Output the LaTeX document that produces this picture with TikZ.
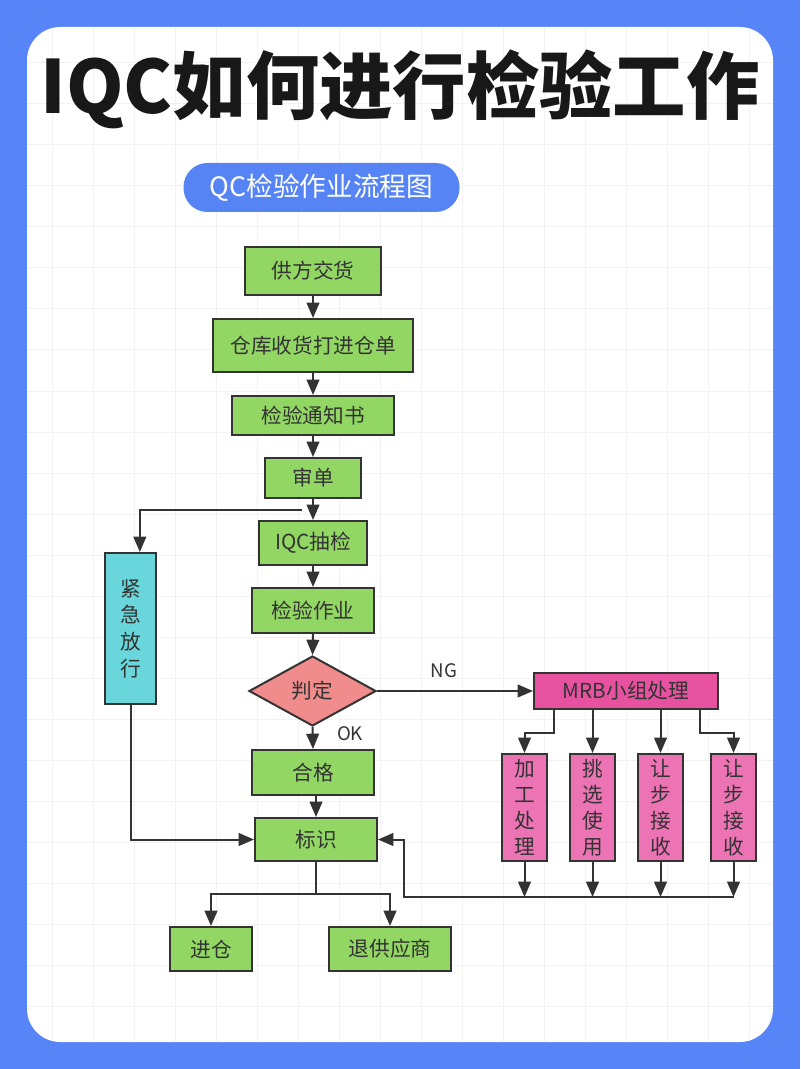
\documentclass[tikz,border=0pt]{standalone}
\usepackage{fontspec}
\setmainfont{Noto Sans CJK SC}
\usetikzlibrary{shapes.geometric,arrows.meta,calc}
\definecolor{bgblue}{RGB}{87,132,246}
\definecolor{pillblue}{RGB}{86,132,244}
\definecolor{gridc}{RGB}{242,242,242}
\definecolor{boxgreen}{RGB}{146,214,100}
\definecolor{boxcyan}{RGB}{104,214,218}
\definecolor{boxrose}{RGB}{240,140,140}
\definecolor{boxmag}{RGB}{230,82,160}
\definecolor{boxpink}{RGB}{236,116,180}
\definecolor{ink}{RGB}{51,51,51}
\definecolor{titleink}{RGB}{24,24,24}
\tikzset{
  base/.style={draw=ink, line width=1.5pt, text=ink, inner sep=0pt,
    font=\fontsize{15.5pt}{20pt}\selectfont},
  gbox/.style={base, fill=boxgreen},
  vbox/.style={base, align=center},
  conn/.style={draw=ink, line width=1.5pt},
  arr/.style={conn, -{Triangle[length=11.5pt,width=9.5pt]}},
  lbl/.style={text=ink, font=\fontsize{14pt}{16pt}\selectfont},
}
\begin{document}
\begin{tikzpicture}[x=0.75pt,y=-0.75pt]
\useasboundingbox (0,0) rectangle (800,1069);
\fill[bgblue] (0,0) rectangle (800,1069);
\fill[white, rounded corners=25pt] (27,27) rectangle (773,1042);
\begin{scope}
  \clip[rounded corners=25pt] (27,27) rectangle (773,1042);
  \foreach \gx in {52,93,...,770} \draw[gridc, line width=0.75pt] (\gx,27) -- (\gx,1042);
  \foreach \gy in {63,104,...,1040} \draw[gridc, line width=0.75pt] (27,\gy) -- (773,\gy);
\end{scope}

% title
\node[text=titleink, font=\bfseries\fontsize{55pt}{60pt}\selectfont] (title) at (400,89) {IQC如何进行检验工作};
% pill
\node[fill=pillblue, rounded corners=18pt, minimum width=276*0.75pt, minimum height=49*0.75pt,
  inner sep=0pt, text=white, font=\fontsize{20pt}{24pt}\selectfont] (pill) at (321.5,187.5) {QC检验作业流程图};

% main column
\node[gbox, minimum width=136*0.75pt, minimum height=48*0.75pt] (s1) at (313,271) {供方交货};
\node[gbox, minimum width=200*0.75pt, minimum height=53*0.75pt] (s2) at (313,345.5) {仓库收货打进仓单};
\node[gbox, minimum width=162*0.75pt, minimum height=39*0.75pt] (s3) at (313,415.5) {检验通知书};
\node[gbox, minimum width=96*0.75pt, minimum height=40*0.75pt] (s4) at (313,478) {审单};
\node[gbox, minimum width=108*0.75pt, minimum height=44*0.75pt] (s5) at (313,543) {IQC抽检};
\node[gbox, minimum width=122*0.75pt, minimum height=45*0.75pt] (s6) at (313,610.5) {检验作业};
\node[base, diamond, fill=boxrose, aspect=1.8, minimum width=127*0.75pt, minimum height=70*0.75pt] (d) at (312.5,691) {判定};
\node[gbox, minimum width=122*0.75pt, minimum height=45*0.75pt] (s7) at (313,772.5) {合格};
\node[gbox, minimum width=122*0.75pt, minimum height=43*0.75pt] (s8) at (316,839.5) {标识};
\node[gbox, minimum width=82*0.75pt, minimum height=44*0.75pt] (s9) at (211,949) {进仓};
\node[gbox, minimum width=122*0.75pt, minimum height=44*0.75pt] (s10) at (390,949) {退供应商};

% emergency release
\node[vbox, fill=boxcyan, minimum width=51*0.75pt, minimum height=151*0.75pt] (em) at (130.5,628.5) {紧\\急\\放\\行};

% MRB
\node[base, fill=boxmag, minimum width=184*0.75pt, minimum height=36*0.75pt] (mrb) at (626,691) {MRB小组处理};
\tikzset{rstyle/.style={vbox, fill=boxpink, minimum width=45*0.75pt, minimum height=107*0.75pt,
  font=\fontsize{15.5pt}{19.5pt}\selectfont}}
\node[rstyle] (r1) at (524.5,807.5) {加\\工\\处\\理};
\node[rstyle] (r2) at (592.5,807.5) {挑\\选\\使\\用};
\node[rstyle] (r3) at (660.5,807.5) {让\\步\\接\\收};
\node[rstyle] (r4) at (733.5,807.5) {让\\步\\接\\收};

% main connectors
\draw[arr] (s1.south) -- (s2.north);
\draw[arr] (s2.south) -- (s3.north);
\draw[arr] (s3.south) -- (s4.north);
\draw[arr] (s4.south) -- (s5.north);
\draw[arr] (s5.south) -- (s6.north);
\draw[arr] (s6.south) -- (d.north);
\draw[arr] (d.south) -- (s7.north);
\draw[arr] (s8.north |- s7.south) -- (s8.north);

% emergency branch
\coordinate (br) at (302,510);
\coordinate (emt) at ([xshift=7pt]em.north);
\draw[arr] (br) -| (emt);
\draw[arr] (em.south) |- (s8.west);

% NG branch
\draw[arr] (d.east) -- (mrb.west);
\node[lbl] (ng) at (444,671) {NG};
\node[lbl] (ok) at (350,734) {OK};

\coordinate (m1) at ([xshift=-54pt]mrb.south);
\coordinate (m4) at ([xshift=55.5pt]mrb.south);
\draw[arr] (m1) -- ++(0,23) -| (r1.north);
\draw[arr] (r2.north |- mrb.south) -- (r2.north);
\draw[arr] (r3.north |- mrb.south) -- (r3.north);
\draw[arr] (m4) -- ++(0,23) -| (r4.north);

% return bus
\coordinate (bus) at (404,897);
\draw[arr] (r1.south) -- (r1.south |- bus);
\draw[arr] (r2.south) -- (r2.south |- bus);
\draw[arr] (r3.south) -- (r3.south |- bus);
\draw[arr] (r4.south) -- (r4.south |- bus);
\draw[arr] (r4.south |- bus) -- (bus) |- (s8.east);

% split to outputs
\coordinate (sp) at (316,894);
\draw[conn] (s8.south) -- (s8.south |- sp);
\draw[arr] (s8.south |- sp) -| (s9.north);
\draw[arr] (s8.south |- sp) -| (s10.north);
\end{tikzpicture}
\end{document}
